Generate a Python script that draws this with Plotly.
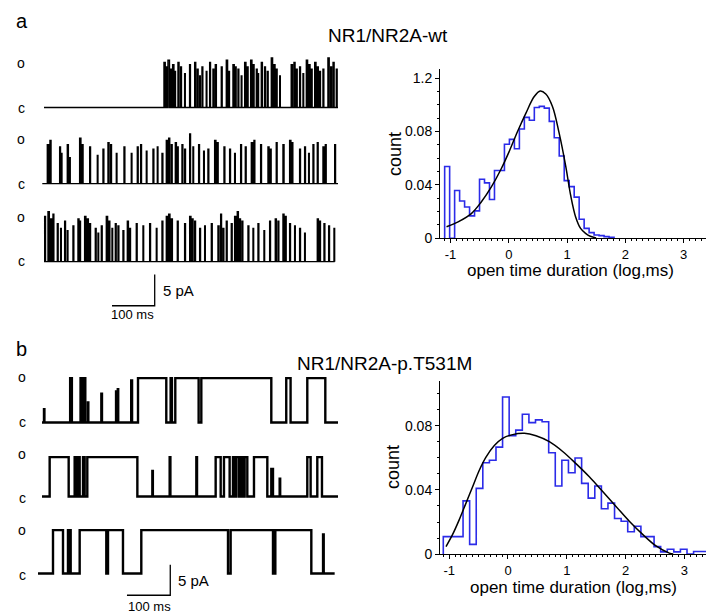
import plotly.graph_objects as go

# ---------------- data ----------------
# histogram of open-time durations, NR1/NR2A-wt (log10 ms bins)
wt_bin_left = -1.10
wt_bin_width = 0.0855
wt_counts = [0.0538, 0.0, 0.0358, 0.0279, 0.0234, 0.0168, 0.0205, 0.0442, 0.0415, 0.0291,
             0.0508, 0.0508, 0.0704, 0.0741, 0.0671, 0.0819, 0.0906, 0.0884, 0.0980, 0.0988,
             0.0975, 0.0876, 0.0753, 0.0617, 0.0432, 0.0387, 0.0308, 0.0143, 0.0074, 0.0042,
             0.0025, 0.0020, 0.0012, 0.0007]
wt_fit_x = [-1.068, -0.869, -0.642, -0.472, -0.301, -0.131, 0.011, 0.153, 0.295, 0.4375,
            0.54, 0.636, 0.75, 0.864, 0.977, 1.063, 1.148, 1.233, 1.318, 1.40, 1.50]
wt_fit_y = [0.0086, 0.0123, 0.0185, 0.0272, 0.0383, 0.0519, 0.0654, 0.0802, 0.0938, 0.1062,
            0.1104, 0.1081, 0.0988, 0.0790, 0.0543, 0.0321, 0.0160, 0.0074, 0.0037, 0.0015, 0.0003]

# histogram, NR1/NR2A-p.T531M
mut_bin_left = -1.10
mut_bin_width = 0.112
mut_counts = [0.0109, 0.0109, 0.0109, 0.0332, 0.0061, 0.0410, 0.0570, 0.0585, 0.0667, 0.0980,
              0.0738, 0.0773, 0.0872, 0.0820, 0.0837, 0.0825, 0.0632, 0.0425, 0.0585, 0.0507,
              0.0599, 0.0441, 0.0349, 0.0425, 0.0283, 0.0318, 0.0222, 0.0205, 0.0139, 0.0174,
              0.0109, 0.0109, 0.0047, 0.0014, 0.0030, 0.0014, 0.0030, 0.0, 0.0016, 0.0016, 0.0016]
mut_fit_x = [-1.054, -0.941, -0.828, -0.714, -0.601, -0.488, -0.374, -0.232, -0.091, 0.079,
             0.278, 0.476, 0.703, 0.93, 1.156, 1.383, 1.61, 1.837, 2.063, 2.29, 2.517, 2.744, 2.81]
mut_fit_y = [0.0047, 0.0123, 0.0215, 0.0318, 0.0420, 0.0523, 0.0605, 0.0677, 0.0722, 0.0745,
             0.0753, 0.0738, 0.0701, 0.0640, 0.0564, 0.0482, 0.0390, 0.0297, 0.0205, 0.0123,
             0.0051, 0.0006, 0.0]

x_tick_vals = [-1, 0, 1, 2, 3]
x_tick_text = ["-1", "0", "1", "2", "3"]
wt_y_tick_vals = [0, 0.04, 0.08, 0.12]
wt_y_tick_text = ["0", "0.04", "0.08", "1.2"]
mut_y_tick_vals = [0, 0.04, 0.08]
mut_y_tick_text = ["0", "0.04", "0.08"]

# single-channel records, wt: opening start (ms), duration (ms), relative peak level
wt_row_span = [(0, 688.5), (-4, 688.5), (0, 680.8)]
wt_row1_start = [281, 285.7, 290.4, 296.6, 301.3, 306, 313.8, 320, 329.4, 341, 352.9, 359, 364.6,
                 370, 380, 388, 395.8, 401.2, 415.3, 427, 432.4, 442.6, 448, 454.3, 462, 470, 476,
                 484, 489.5, 497.3, 501, 509, 516.7, 523, 532.4, 538.6, 544, 552, 579, 585.5, 591,
                 598.7, 606.6, 614.4, 620.6, 626, 634, 640, 645.5, 653.4, 665, 671.5, 677, 684.6]
wt_row1_dur = [3, 2.5, 3.5, 2, 3, 2, 2.5, 2, 1.5, 2, 2.5, 2, 1.5, 2, 1.5, 2, 2, 2.5, 2, 3, 2, 3, 2,
               2, 1.5, 3, 2, 3, 2.5, 2, 1.5, 2.5, 2, 2, 3, 2.5, 2, 1.5, 3, 2.5, 2, 2, 1.5, 3, 2.5,
               2, 3, 2.5, 2, 2, 3, 2, 2.5, 2]
wt_row1_level = [1.0, 0.9, 1.05, 0.85, 0.95, 0.8, 1.0, 0.9, 0.75, 0.95,
                 1.0, 0.85, 0.7, 0.9, 0.8, 1.0, 0.85, 0.95, 0.9, 1.05,
                 0.8, 0.95, 0.9, 0.85, 0.7, 1.0, 0.9, 1.05, 0.95, 0.85,
                 0.75, 1.0, 0.9, 0.8, 1.1, 0.95, 0.85, 0.7, 0.95, 1.0,
                 0.85, 0.9, 0.75, 1.05, 0.95, 0.85, 1.0, 0.9, 0.8, 0.85,
                 1.1, 0.9, 1.0, 0.85]
wt_row2_start = [7.8, 14, 36.7, 40.6, 54.6, 60, 83.5, 89, 107, 124.9, 138.2, 149.9, 156.1, 169.4,
                 187.4, 204.5, 218.6, 226.4, 239.7, 255.3, 265.4, 276.4, 286.5, 292, 298.2, 307.6,
                 312.3, 323.2, 329.4, 341.2, 348.9, 362.2, 373.9, 384, 399.7, 405.9, 421.6, 434.8,
                 446.5, 460.6, 471.5, 485.6, 491.8, 507.4, 524.6, 530, 544, 559.7, 575.3, 580.8,
                 598.7, 610.4, 619.8, 630, 640.1, 653.4, 658.9, 680.8]
wt_row2_dur = [3, 2.5, 2, 1.5, 2.5, 1.5, 3, 2.5, 2, 1.5, 2, 2.5, 2, 1.5, 2, 1.5, 2, 2, 1.5, 2, 1.5,
               2, 3, 2.5, 2, 2.5, 2, 2, 2, 2, 1.5, 2, 1.5, 2, 3, 2, 2, 2, 1.5, 2, 2, 3, 2, 2, 2.5,
               2, 2, 2.5, 3, 2, 2, 2, 1.5, 2, 2, 2.5, 2, 2]
wt_row2_level = [0.9, 1.0, 0.85, 0.7, 0.9, 0.6, 1.05, 0.9, 0.85, 0.65,
                 0.8, 0.95, 0.9, 0.7, 0.85, 0.7, 0.85, 0.9, 0.75, 0.8,
                 0.85, 0.7, 1.0, 1.05, 0.9, 0.95, 0.85, 0.9, 0.8, 1.15,
                 0.85, 0.9, 0.75, 0.8, 1.0, 0.95, 0.85, 0.8, 0.7, 0.9,
                 0.85, 0.95, 1.0, 0.9, 0.85, 0.8, 0.95, 0.9, 1.0, 0.95,
                 0.8, 0.85, 0.7, 0.9, 0.95, 0.85, 0.9, 0.9]
wt_row3_start = [1.6, 9.4, 15.6, 21.1, 31.2, 39, 48.4, 54.6, 67.9, 79.6, 83.5, 95.2, 101.4, 107,
                 120.2, 126.5, 134.3, 146, 152.2, 159.3, 167.1, 173.3, 185, 195.2, 200.6, 216.2,
                 231.9, 247.5, 263.1, 276.4, 286.5, 292, 298.2, 312.3, 329.4, 341.2, 346.6, 352.9,
                 364.6, 376.3, 392, 407.5, 413.8, 419.2, 427, 438.7, 446.5, 452.7, 458.2, 463.7,
                 477.8, 489.5, 501.2, 515.2, 528.5, 541.7, 548, 559.7, 565.2, 575.3, 587, 598.7,
                 610.4, 640.1, 645.5, 655.8, 666.7, 679.2]
wt_row3_dur = [2, 3, 2.5, 2, 2, 1.5, 2, 1.5, 2, 2.5, 2, 3, 2.5, 2, 2, 1.5, 2, 3, 2, 1.5, 2, 2, 2,
               2.5, 2, 2, 1.5, 2, 1.5, 2, 3, 3, 2.5, 2, 2, 3, 2.5, 2, 2, 1.5, 2, 2.5, 2, 2, 2, 2, 3,
               2.5, 2, 2, 2, 1.5, 2, 1.5, 2, 2.5, 2, 2.5, 2, 2, 1.5, 2, 1.5, 2.5, 2, 2, 2, 1.5]
wt_row3_level = [0.95, 1.05, 0.9, 1.0, 0.8, 0.7, 0.85, 0.65, 0.75, 0.9,
                 0.85, 0.95, 0.9, 0.8, 0.7, 0.6, 0.75, 0.95, 0.85, 0.7,
                 0.8, 0.75, 0.65, 0.85, 0.7, 0.8, 0.75, 0.8, 0.7, 0.85,
                 0.95, 1.0, 0.9, 0.85, 0.8, 0.95, 0.9, 0.85, 0.7, 0.75,
                 0.8, 0.75, 1.0, 0.7, 0.85, 0.8, 0.95, 1.05, 0.9, 0.85,
                 0.75, 0.7, 0.8, 0.65, 0.85, 0.9, 0.85, 1.0, 0.95, 0.8,
                 0.75, 0.7, 0.6, 0.9, 0.85, 0.8, 0.75, 0.7]

# single-channel records, T531M: opening start, end (ms) and relative level
mut_row_span = [(0, 683.5), (0, 683.5), (-9.2, 675.8)]
mut_row1_start = [4.6, 65, 89, 96, 106, 137, 171, 175, 206, 221.7, 297, 307.8, 367.9, 564, 612.6]
mut_row1_end = [5.6, 69, 92, 100, 107, 138.5, 173, 176, 208, 287, 300, 361.7, 529.5, 574, 654.2]
mut_row1_level = [0.3, 1, 1, 1, 0.45, 0.65, 0.7, 0.75, 0.95, 1, 1, 1, 1, 1, 1]
mut_row2_start = [17.7, 75.4, 81.6, 85, 94.7, 104.6, 254.8, 294.8, 356.4, 401, 420.2, 441, 448.7,
                  458.7, 467.9, 489.5, 529.5, 548.8, 612.6, 635.7]
mut_row2_end = [61.6, 77.7, 84, 87, 98.5, 220.2, 256, 296.5, 358, 412.6, 433.3, 444.9, 454.9,
                464.1, 474.1, 520.3, 533.4, 550, 620.3, 646.5]
mut_row2_level = [1, 1, 1, 1, 1, 1, 0.65, 1, 1, 1, 1, 1, 1, 1, 1, 1, 0.7, 0.45, 1, 1]
mut_row3_start = [25.4, 60, 64.5, 87, 152.4, 229.3, 435.6, 538.8, 649]
mut_row3_end = [48.5, 61.5, 66.2, 148.5, 187, 429.5, 533.4, 621.9, 650.5]
mut_row3_level = [1, 1, 1, 1, 1, 1, 1, 1, 0.9]

# trace baselines and unitary amplitudes (pA), scale bars
wt_baseline = [34.6, 22.43, 9.95]
wt_amp = [7.2, 6.9, 7.6]
mut_baseline = [30.65, 18.55, 5.97]
mut_amp = [7.25, 6.45, 7.1]
scale_ms = 100
scale_pa = 5

# ---------------- helpers ----------------
W, H = 714, 616
def px(x):
    return x / W
def py(y):
    return 1 - y / H

BLUE = "#2b2be8"
FONT = "Liberation Sans, Arial, sans-serif"

def hist_xy(left, width, counts):
    edges = [left + i * width for i in range(len(counts) + 1)]
    xs = [edges[0]] + edges
    ys = [0] + list(counts) + [0]
    return xs, ys

def trace_xy(span, starts, ends, levels, base, amp):
    xs, ys = [span[0]], [base]
    for s, e, l in zip(starts, ends, levels):
        xs += [s, s, e, e]
        ys += [base, base + amp * l, base + amp * l, base]
    xs.append(span[1]); ys.append(base)
    return xs, ys

fig = go.Figure()

# histograms
hx, hy = hist_xy(wt_bin_left, wt_bin_width, wt_counts)
fig.add_trace(go.Scatter(x=hx, y=hy, mode="lines", line=dict(color=BLUE, width=1.6, shape="hv"),
                         xaxis="x", yaxis="y", hoverinfo="skip"))
fig.add_trace(go.Scatter(x=wt_fit_x, y=wt_fit_y, mode="lines",
                         line=dict(color="black", width=1.5, shape="spline"), xaxis="x", yaxis="y"))
hx, hy = hist_xy(mut_bin_left, mut_bin_width, mut_counts)
fig.add_trace(go.Scatter(x=hx, y=hy, mode="lines", line=dict(color=BLUE, width=1.6, shape="hv"),
                         xaxis="x2", yaxis="y2", hoverinfo="skip"))
fig.add_trace(go.Scatter(x=mut_fit_x, y=mut_fit_y, mode="lines",
                         line=dict(color="black", width=1.5, shape="spline"), xaxis="x2", yaxis="y2"))

# wt records
wt_rows = [(wt_row1_start, wt_row1_dur, wt_row1_level),
           (wt_row2_start, wt_row2_dur, wt_row2_level),
           (wt_row3_start, wt_row3_dur, wt_row3_level)]
for i, (st, du, lv) in enumerate(wt_rows):
    ends = [s + d for s, d in zip(st, du)]
    xs, ys = trace_xy(wt_row_span[i], st, ends, lv, wt_baseline[i], wt_amp[i])
    fig.add_trace(go.Scatter(x=xs, y=ys, mode="lines", line=dict(color="black", width=1.4),
                             xaxis="x3", yaxis="y3", hoverinfo="skip"))

# mutant records
mut_rows = [(mut_row1_start, mut_row1_end, mut_row1_level),
            (mut_row2_start, mut_row2_end, mut_row2_level),
            (mut_row3_start, mut_row3_end, mut_row3_level)]
for i, (st, en, lv) in enumerate(mut_rows):
    xs, ys = trace_xy(mut_row_span[i], st, en, lv, mut_baseline[i], mut_amp[i])
    fig.add_trace(go.Scatter(x=xs, y=ys, mode="lines", line=dict(color="black", width=2.4),
                             xaxis="x4", yaxis="y4", hoverinfo="skip"))

# scale bars (anchored at right end of horizontal bar)
wt_bar_t, wt_bar_y = 259.3, 2.89
fig.add_trace(go.Scatter(x=[wt_bar_t - scale_ms, wt_bar_t, wt_bar_t],
                         y=[wt_bar_y, wt_bar_y, wt_bar_y + scale_pa], mode="lines",
                         line=dict(color="black", width=1.3), xaxis="x3", yaxis="y3"))
mut_bar_t, mut_bar_y = 296.2, 2.42
fig.add_trace(go.Scatter(x=[mut_bar_t - scale_ms, mut_bar_t, mut_bar_t],
                         y=[mut_bar_y, mut_bar_y, mut_bar_y + scale_pa], mode="lines",
                         line=dict(color="black", width=1.3), xaxis="x4", yaxis="y4"))

# ---------------- axes ----------------
def hist_xaxis(dom, rng, anchor):
    return dict(domain=dom, range=rng, anchor=anchor, showline=True, linecolor="black", linewidth=1,
                ticks="outside", ticklen=4, tickcolor="black", tickvals=x_tick_vals,
                ticktext=x_tick_text, tickfont=dict(size=13, color="black", family=FONT),
                ticklabelstandoff=0, showgrid=False, zeroline=False,
                minor=dict(dtick=0.1, ticks="outside", ticklen=2, tickcolor="black", showgrid=False))

def hist_yaxis(dom, rng, anchor, vals, text):
    return dict(domain=dom, range=rng, anchor=anchor, showline=True, linecolor="black", linewidth=1,
                ticks="outside", ticklen=4, tickcolor="black", tickvals=vals, ticktext=text,
                tickfont=dict(size=14, color="black", family=FONT), showgrid=False, zeroline=False,
                minor=dict(dtick=0.01, tick0=0, ticks="outside", ticklen=2, tickcolor="black",
                           showgrid=False))

hidden = dict(visible=False, showgrid=False, zeroline=False)

fig.update_layout(
    width=W, height=H, margin=dict(l=0, r=0, t=0, b=0),
    paper_bgcolor="white", plot_bgcolor="white", showlegend=False,
    font=dict(family=FONT, color="black"),
    xaxis=hist_xaxis([px(432), px(707)], [-1.18, 3.54], "y"),
    yaxis=hist_yaxis([py(233.3), py(62)], [0, 0.1267], "x", wt_y_tick_vals, wt_y_tick_text),
    xaxis2=hist_xaxis([px(432), px(708)], [-1.156, 3.537], "y2"),
    yaxis2=hist_yaxis([py(553.3), py(378.3)], [0, 0.1077], "x2", mut_y_tick_vals, mut_y_tick_text),
    xaxis3=dict(domain=[px(28), px(340)], range=[-18.7, 712], anchor="y3", **hidden),
    yaxis3=dict(domain=[py(320), py(40)], range=[0, 44.2], anchor="x3", **hidden),
    xaxis4=dict(domain=[px(28), px(340)], range=[-13.85, 706.6], anchor="y4", **hidden),
    yaxis4=dict(domain=[py(610), py(365)], range=[0, 39.52], anchor="x4", **hidden),
)

ann = []
def text(x, y, s, size, xanchor="center", yanchor="middle", angle=0):
    ann.append(dict(x=px(x), y=py(y), xref="paper", yref="paper", text=s, showarrow=False,
                    xanchor=xanchor, yanchor=yanchor, textangle=angle,
                    font=dict(size=size, color="black", family=FONT)))

text(6, 13, "a", 20, "left")
text(6, 345, "b", 20, "left")
text(380, 28, "NR1/NR2A-wt", 19)
text(376, 360, "NR1/NR2A-p.T531M", 19)
text(387, 148, "count", 18, angle=-90)
text(385, 465, "count", 18, angle=-90)
text(562, 266, "open time duration (log,ms)", 17)
text(565, 587, "open time duration (log,ms)", 17)
for yy, s in [(56, "o"), (101, "c"), (133, "o"), (178, "c"), (212, "o"), (256, "c")]:
    text(13, yy, s, 14)
for yy, s in [(374, "o"), (419, "c"), (452, "o"), (496, "c"), (529, "o"), (574, "c")]:
    text(14, yy, s, 14)
text(153, 286, "5 pA", 15, "left")
text(125, 311, "100 ms", 13)
text(168, 580, "5 pA", 15, "left")
text(141, 606, "100 ms", 13)
fig.update_layout(annotations=ann)

fig.write_html("out.html")
